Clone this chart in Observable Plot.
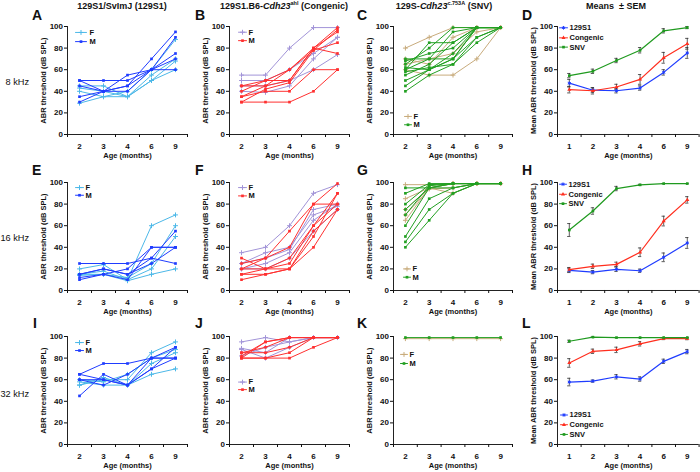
<!DOCTYPE html>
<html><head><meta charset="utf-8">
<script src="https://cdn.jsdelivr.net/npm/d3@7"></script>
<script src="https://cdn.jsdelivr.net/npm/@observablehq/plot@0.6"></script>
<style>
html,body{margin:0;padding:0;background:#fff;}
#fig{position:relative;width:700px;height:472px;overflow:hidden;background:#fff;}
#fig svg{position:absolute;overflow:visible;}
</style></head><body><div id="fig"></div>
<script>
// ---------- data ----------
const agesInd = ["2","3","4","6","9"];
const agesMean = ["1","2","3","4","6","9"];
const yTicks = [0,20,40,60,80,100];
const strains = ["129S1","Congenic","SNV"];
const freqs = ["8 kHz","16 kHz","32 kHz"];

// 8 kHz individual thresholds (rows = mice, columns = ages 2,3,4,6,9)
const A_F = [[45,45,35,50,60],[40,35,35,50,68],[29,35,40,60,88],[43,40,35,55,70]];
const A_M = [[50,50,50,60,60],[45,40,55,60,75],[35,40,45,70,95],[30,40,40,60,90],[50,40,45,60,70]];
const B_F = [[55,55,80,99,99],[50,50,60,75,90],[40,39,45,70,90],[45,45,50,60,74]];
const B_M = [[30,30,30,40,60],[35,40,40,60,60],[45,50,50,80,75],[45,45,60,80,95],[35,45,50,80,99],[30,42,48,78,85],[40,50,60,78,97]];
const C_F = [[80,90,99,99,99],[60,55,55,70,99],[65,70,75,95,99],[70,65,90,99,99]];
const C_M = [[40,55,65,85,99],[45,60,70,90,99],[50,60,75,99,99],[55,65,85,99,99],[60,85,85,99,99],[62,60,70,99,99],[65,80,99,99,99],[70,70,95,99,99],[58,62,65,90,99],[68,75,80,99,99],[60,70,70,99,99]];
// 16 kHz
const E_F = [[20,24,10,60,70],[14,15,9,15,20],[15,18,10,20,50],[15,15,12,25,60]];
const E_M = [[25,25,25,30,25],[15,20,15,30,55],[10,15,20,40,40],[15,20,15,25,40],[12,15,10,40,40]];
const F_F = [[35,40,60,90,98],[25,35,40,70,78],[20,25,35,65,80],[20,20,30,55,75],[25,30,38,75,80]];
const F_M = [[30,20,20,40,75],[25,30,55,80,80],[20,30,40,80,99],[15,15,20,50,90],[10,15,20,55,75],[20,20,25,60,80],[15,20,30,60,90]];
const G_F = [[98,98,99,99,99],[85,95,90,99,99],[65,95,99,99,99],[75,95,99,99,99],[70,94,95,99,99]];
const G_M = [[95,95,99,99,99],[90,99,99,99,99],[80,98,99,99,99],[75,95,95,99,99],[70,97,99,99,99],[60,95,99,99,99],[50,85,95,99,99],[45,75,90,99,99],[40,65,90,99,99]];
// 32 kHz
const I_F = [[55,60,60,85,95],[58,55,55,65,70],[55,62,55,75,85],[60,58,65,80,88]];
const I_M = [[65,75,75,80,80],[45,65,55,70,90],[65,60,55,80,80],[60,55,65,80,90],[60,60,55,70,80]];
const J_F = [[95,99,95,99,99],[89,85,99,99,99],[88,80,90,99,99],[82,90,95,99,99]];
const J_M = [[80,80,80,90,99],[85,85,90,99,99],[80,95,99,99,99],[85,90,99,99,99],[80,80,85,99,99],[82,95,99,99,99]];
const K_F = [[98,98,98,98,98]];
const K_M = [[99,99,99,99,99]];

// Means ± SEM (ages 1,2,3,4,6,9)
const D_129S1 = [47.5,41,40.5,43,57.5,75.5], D_129S1_sem = [3.5,2,2,2,2.5,5];
const D_Cong  = [41.5,40.5,44,51,71,84],     D_Cong_sem  = [3,3,2.5,4.5,5,5];
const D_SNV   = [54.5,58.5,68.5,78,96,99],   D_SNV_sem   = [2,2,2,2.5,2,1];
const H_129S1 = [18.6,17,19.6,18.3,30.7,44], H_129S1_sem = [2,1.5,2,1.5,4,5];
const H_Cong  = [19.3,22.4,24.2,35.4,64.3,83.9], H_Cong_sem = [2,2,2,4,4.5,3];
const H_SNV   = [56,73.6,94.4,97.8,99,99],   H_SNV_sem   = [6,3,2,0.5,0,0];
const L_129S1 = [57.8,58.7,62.7,60.6,77,86], L_129S1_sem = [3.5,1,2,2,2,2];
const L_Cong  = [75.5,86.3,87.6,93.2,98.1,98], L_Cong_sem = [4,2,2.5,2,1,1];
const L_SNV   = [95.6,99.4,99,99,99,99],     L_SNV_sem   = [1,0,0,0,0,0];

// ---------- style / layout ----------
const FONT = "'Liberation Sans', Arial, Helvetica, sans-serif";
const COL = {
  s129: {F: "#4cb8e8", M: "#1f3cff"},
  cong: {F: "#a294d8", M: "#ff3030"},
  snv:  {F: "#c8ab7c", M: "#22a022"},
  mean: ["#1f3cff", "#ff2e1e", "#1f9a1f"]
};
const MEAN_SYM = ["asterisk", "triangle", "square"];
const colX = [67, 229, 393, 557];
const colStep = [24, 24, 23.8, 23.6];
const rowY100 = [26, 181.5, 335.5];
const PH = 108, ML = 40, MT = 8, MB = 28, MR = 3;

const fig = d3.select("#fig");

function symbolDot(data, symbol, color, ch) {
  const stroked = ["asterisk", "plus", "times"].includes(symbol);
  return Plot.dot(data, {...ch, symbol, r: stroked ? 1.7 : 1.5,
    fill: stroked ? "none" : color, stroke: stroked ? color : "none", strokeWidth: 1});
}

function legendMarks(items, lg, step) {
  const u = px => px / step - 0.5;
  const marks = [];
  items.forEach((it, k) => {
    const y = lg.ys[k];
    marks.push(Plot.line([[u(lg.x1), y], [u(lg.x2), y]], {stroke: it.color, strokeWidth: 1}));
    marks.push(symbolDot([[(u(lg.x1) + u(lg.x2)) / 2, y]], it.symbol, it.color, {x: d => d[0], y: d => d[1]}));
    marks.push(Plot.text([it.label], {x: u(lg.tx), y, text: d => d, textAnchor: "start", fontSize: 7.5, fontWeight: "bold", fill: "#111"}));
  });
  return marks;
}

function drawPanel(p) {
  const step = colStep[p.col];
  const ages = p.mean ? agesMean : agesInd;
  const n = ages.length;
  const W = ML + n * step + MR, H = MT + PH + MB;
  const marks = [];
  marks.push(Plot.ruleX([-0.5], {stroke: "#222", strokeWidth: 1}));
  marks.push(Plot.ruleY([0], {stroke: "#222", strokeWidth: 1}));
  marks.push(Plot.axisY({ticks: yTicks, tickSize: 3, tickPadding: 1.5, label: null, fontSize: 8, fontWeight: "bold"}));
  marks.push(Plot.axisX({ticks: d3.range(n), tickFormat: i => ages[i], tickSize: 0, tickPadding: 9, label: null, fontSize: 8, fontWeight: "bold"}));
  marks.push(Plot.axisX({ticks: d3.range(n + 1).map(i => i - 0.5), tickFormat: () => "", tickSize: 3, label: null}));
  marks.push(Plot.text([p.mean ? "Mean ABR threshold (dB SPL)" : "ABR threshold (dB SPL)"],
    {frameAnchor: "left", dx: -24, rotate: -90, textAnchor: "middle", lineAnchor: "middle",
     text: d => d, fontSize: 7.5, fontWeight: "bold", fill: "#111"}));
  marks.push(Plot.text(["Age (months)"], {frameAnchor: "bottom", dy: 21, textAnchor: "middle", lineAnchor: "middle",
     text: d => d, fontSize: 7.5, fontWeight: "bold", fill: "#111"}));

  if (!p.mean) {
    const rowsOf = arr => arr.flatMap((vals, id) => vals.map((v, i) => ({id, i, v})));
    const groups = [
      {label: "F", rows: rowsOf(p.F), color: p.colors.F, symbol: "plus"},
      {label: "M", rows: rowsOf(p.M), color: p.colors.M, symbol: "square"}
    ];
    for (const g of groups) {
      marks.push(Plot.line(g.rows, {x: "i", y: "v", z: "id", stroke: g.color, strokeWidth: 1}));
      marks.push(symbolDot(g.rows, g.symbol, g.color, {x: "i", y: "v"}));
    }
    marks.push(...legendMarks(groups, p.legend, step));
  } else {
    const series = p.series.map((s, k) => ({label: strains[k], color: COL.mean[k], symbol: MEAN_SYM[k],
      rows: s.v.map((v, i) => ({i, v, e: s.e[i]}))}));
    for (const s of series) {
      marks.push(Plot.ruleX(s.rows, {x: "i", y1: d => d.v - d.e, y2: d => d.v + d.e, stroke: "#333", strokeWidth: 0.8}));
      marks.push(Plot.ruleY(s.rows, {y: d => d.v + d.e, x1: d => d.i - 0.07, x2: d => d.i + 0.07, stroke: "#333", strokeWidth: 0.8}));
      marks.push(Plot.ruleY(s.rows, {y: d => d.v - d.e, x1: d => d.i - 0.07, x2: d => d.i + 0.07, stroke: "#333", strokeWidth: 0.8}));
    }
    for (const s of series) {
      marks.push(Plot.line(s.rows, {x: "i", y: "v", stroke: s.color, strokeWidth: 1.2}));
      marks.push(symbolDot(s.rows, s.symbol, s.color, {x: "i", y: "v"}));
    }
    marks.push(...legendMarks(series, p.legend, step));
  }

  const svg = Plot.plot({
    width: W, height: H,
    marginLeft: ML, marginRight: MR, marginTop: MT, marginBottom: MB,
    x: {domain: [-0.5, n - 0.5]},
    y: {domain: [0, 100]},
    style: {fontFamily: FONT, fontWeight: "bold", fontSize: "8px", background: "transparent", overflow: "visible", color: "#111"},
    marks
  });
  svg.style.left = (colX[p.col] - ML) + "px";
  svg.style.top = (rowY100[p.row] - MT) + "px";
  fig.node().appendChild(svg);
}

const panels = [
  {col:0,row:0, F:A_F, M:A_M, colors:COL.s129, legend:{x1:8,x2:19,tx:22,ys:[94.5,86]}},
  {col:1,row:0, F:B_F, M:B_M, colors:COL.cong, legend:{x1:9,x2:17,tx:19,ys:[94.7,86.9]}},
  {col:2,row:0, F:C_F, M:C_M, colors:COL.snv,  legend:{x1:11,x2:18,tx:20,ys:[16.7,9]}},
  {col:3,row:0, mean:true, series:[{v:D_129S1,e:D_129S1_sem},{v:D_Cong,e:D_Cong_sem},{v:D_SNV,e:D_SNV_sem}], legend:{x1:2,x2:10,tx:12,ys:[98.8,89.5,80.9]}},
  {col:0,row:1, F:E_F, M:E_M, colors:COL.s129, legend:{x1:8,x2:16,tx:18,ys:[95.3,88.2]}},
  {col:1,row:1, F:F_F, M:F_M, colors:COL.cong, legend:{x1:9,x2:17,tx:19,ys:[95.3,87.6]}},
  {col:2,row:1, F:G_F, M:G_M, colors:COL.snv,  legend:{x1:10,x2:17,tx:19,ys:[20,12.3]}},
  {col:3,row:1, mean:true, series:[{v:H_129S1,e:H_129S1_sem},{v:H_Cong,e:H_Cong_sem},{v:H_SNV,e:H_SNV_sem}], legend:{x1:2,x2:9,tx:11,ys:[98.4,89.1,80.4]}},
  {col:0,row:2, F:I_F, M:I_M, colors:COL.s129, legend:{x1:8,x2:16,tx:18,ys:[94.4,87]}},
  {col:1,row:2, F:J_F, M:J_M, colors:COL.cong, legend:{x1:9,x2:17,tx:19,ys:[57.8,50.8]}},
  {col:2,row:2, F:K_F, M:K_M, colors:COL.snv,  legend:{x1:7,x2:14,tx:16,ys:[83.4,75]}},
  {col:3,row:2, mean:true, series:[{v:L_129S1,e:L_129S1_sem},{v:L_Cong,e:L_Cong_sem},{v:L_SNV,e:L_SNV_sem}], legend:{x1:3,x2:10,tx:12,ys:[27.3,18.3,9.3]}}
];
panels.forEach(drawPanel);

// ---------- overlay texts ----------
const ov = fig.append("svg").attr("width", 700).attr("height", 472)
  .style("left", "0px").style("top", "0px").style("pointer-events", "none")
  .attr("font-family", FONT);
const headers = [
  {x: 122, parts: [{t: "129S1/SvImJ (129S1)"}]},
  {x: 284, parts: [{t: "129S1.B6-"}, {t: "Cdh23", i: true}, {t: "ahl", sup: true}, {t: " (Congenic)"}]},
  {x: 444, parts: [{t: "129S-"}, {t: "Cdh23", i: true}, {t: "c.753A", sup: true}, {t: " (SNV)"}]},
  {x: 616, parts: [{t: "Means  ± SEM"}]}
];
headers.forEach(h => {
  const t = ov.append("text").attr("x", h.x).attr("y", 8.5).attr("text-anchor", "middle")
    .attr("font-size", 9).attr("font-weight", "bold").attr("fill", "#111").attr("xml:space", "preserve");
  let shifted = false;
  h.parts.forEach(p => {
    const s = t.append("tspan").text(p.t);
    if (p.i) s.attr("font-style", "italic");
    if (p.sup) { s.attr("font-size", 5.5).attr("dy", -3.5); shifted = true; }
    else if (shifted) { s.attr("dy", 3.5); shifted = false; }
  });
});
const letters = "ABCDEFGHIJKL".split("");
const letterX = [32, 195, 357, 522];
const letterY = [20, 174.5, 328];
letters.forEach((L, k) => {
  ov.append("text").attr("x", letterX[k % 4] + (L === "I" ? 1 : 0)).attr("y", letterY[Math.floor(k / 4)])
    .attr("font-size", 14).attr("font-weight", "bold").attr("fill", "#111").text(L);
});
const rowLabelY = [85, 241, 397];
freqs.forEach((f, k) => {
  ov.append("text").attr("x", 29).attr("y", rowLabelY[k]).attr("text-anchor", "end")
    .attr("font-size", 9.2).attr("fill", "#111").text(f);
});
</script></body></html>
